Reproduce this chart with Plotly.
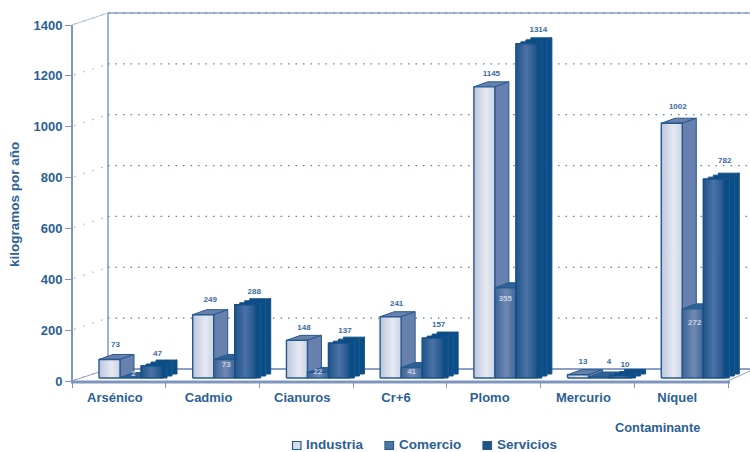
import plotly.graph_objects as go

# Annual emissions by pollutant and sector (kg/year)
contaminantes = ["Arsénico", "Cadmio", "Cianuros", "Cr+6", "Plomo", "Mercurio", "Níquel"]
industria = [73, 249, 148, 241, 1145, 13, 1002]
comercio = [2, 73, 22, 41, 355, 4, 272]
servicios = [47, 288, 137, 157, 1314, 10, 782]
y_ticks = [0, 200, 400, 600, 800, 1000, 1200, 1400]

# Front plane of the chart in pixels; everything below is expressed through these scales
WIDTH, HEIGHT = 750, 452
LEFT, RIGHT, TOP, BOTTOM = 72, 728, 25, 381
PX_X = (RIGHT - LEFT) / len(contaminantes)   # pixels per category
PX_Y = (BOTTOM - TOP) / 1400                 # pixels per kg


def ux(px):
    return px / PX_X


def uy(px):
    return px / PX_Y


BLUE_TEXT = "#2c5f96"
AXIS = "#7f95bd"
DOTS = "#5f7fa8"
EDGE = "#245a8e"

BAR_W = ux(21)
GROUP_START = ux(27)
FLOOR = uy(3)              # bars stand slightly behind the front plane
WALL_DX, WALL_DY = ux(36), uy(12)

SERIES = [
    dict(values=industria, depth=(ux(14), uy(5)), steps=1, side="#6880ad", edge=EDGE,
         grad=[[0, "#bcc6dc"], [0.6, "#e6e9f2"], [1, "#ccd3e4"]]),
    dict(values=comercio, depth=(ux(14), uy(5)), steps=1, side="#2f6096", edge=EDGE,
         grad=[[0, "#3d6497"], [0.55, "#7089b4"], [1, "#3f6698"]]),
    dict(values=servicios, depth=(ux(15), uy(6)), steps=3, side="#0b4d86", edge="#144f86",
         grad=[[0, "#1f5489"], [0.5, "#4a72a6"], [1, "#1f5489"]]),
]

# The axes run on to the page edge so the receding wall stays inside the plot area
x_start, x_stop = -0.5, len(contaminantes) - 0.5
page_right = x_start + ux(WIDTH - LEFT)
y_top = uy(BOTTOM)

fig = go.Figure()

# Carries the category axis; the marks live on the numeric overlay axis
fig.add_trace(go.Scatter(x=contaminantes, y=[0] * len(contaminantes), mode="none",
                         showlegend=False, hoverinfo="skip"))


def line(xs, ys, color, width=1, dash="solid"):
    fig.add_trace(go.Scatter(x=xs, y=ys, xaxis="x2", mode="lines",
                             line=dict(color=color, width=width, dash=dash),
                             showlegend=False, hoverinfo="skip"))


def face(xs, ys, fill=None, grad=None, edge=EDGE, width=1):
    kw = dict(fillcolor=fill) if fill else dict(fillgradient=dict(type="horizontal", colorscale=grad))
    fig.add_trace(go.Scatter(x=xs + xs[:1], y=ys + ys[:1], xaxis="x2", mode="lines",
                             fill="toself", line=dict(color=edge, width=width),
                             showlegend=False, hoverinfo="skip", **kw))


# Back wall, its gridlines and the floor edges
wall_x = x_start + WALL_DX
line([wall_x, wall_x], [WALL_DY, 1400 + WALL_DY], "#8ba0c6", 1.6)
line([wall_x, page_right], [1400 + WALL_DY] * 2, "#8ba0c6", 1.6)
line([wall_x, page_right], [WALL_DY, WALL_DY], "#8ba0c6", 2)
for t in y_ticks:
    if t:
        line([wall_x, page_right], [t + WALL_DY] * 2, DOTS, 1.2, "1.5px,6px")
    line([x_start + ux(2), wall_x], [t + uy(1), t + WALL_DY], "#a3b3cf", 1.2, "1.5px,8px")
line([x_start, wall_x], [1400, 1400 + WALL_DY], "#b4c1d8", 1)
line([x_start, wall_x], [0, WALL_DY], "#8ba0c6", 1)
line([x_stop, page_right], [0, uy(10)], "#8ba0c6", 1)


def stair(x, y, dx, dy, steps):
    """Corner points climbing from a front corner to its back corner."""
    pts = []
    for k in range(1, steps + 1):
        pts.append((x + dx * k / steps, y + dy * (k - 1) / steps))
        pts.append((x + dx * k / steps, y + dy * k / steps))
    return pts


# Each category is painted left to right so that nearer faces overlap correctly
for i in range(len(contaminantes)):
    for s, cfg in enumerate(SERIES):
        v = cfg["values"][i]
        x0 = x_start + i + GROUP_START + s * BAR_W
        x1 = x0 + BAR_W
        y0, y1 = FLOOR, FLOOR + v
        dx, dy = cfg["depth"]
        st = cfg["steps"]
        # Top and side faces; Servicios has a stepped outline
        top_run = stair(x0, y1, dx, dy, st) if st > 1 else [(x0 + dx, y1 + dy)]
        bottom_run = stair(x1, y0, dx, dy, st) if st > 1 else [(x1 + dx, y0 + dy)]
        back_corner = (x1 + dx, y1 + dy)
        pts = [(x0, y1)] + top_run + [back_corner, (x1, y1)]
        face([p[0] for p in pts], [p[1] for p in pts], fill=cfg["side"], edge=cfg["edge"])
        pts = [(x1, y1), back_corner] + bottom_run[::-1] + [(x1, y0)]
        face([p[0] for p in pts], [p[1] for p in pts], fill=cfg["side"], edge=cfg["edge"])
        if st > 1:
            for k in range(1, st):
                sx = x1 + dx * k / st
                line([sx, sx], [y0 + dy * k / st, y1 + dy * k / st], "#1b5c93", 1)
        # Front face with its horizontal sheen
        face([x0, x1, x1, x0], [y0, y0, y1, y1], grad=cfg["grad"], edge=cfg["edge"], width=1.4)


def bar_centre(i, s):
    return x_start + i + GROUP_START + (s + 0.5) * BAR_W


LABEL_FONT = dict(family="Liberation Sans", size=8, color="#3a6a9f", weight="bold")
INNER_FONT = dict(family="Liberation Sans", size=8, color="#c6d0e2", weight="bold")

# Value labels float above the top face: per-bar nudges keep them clear of the depth faces
industria_lift = [14, 15, 12, 13, 13, 13, 16]
industria_nudge = [6, 7, 7, 6, 7, 5, 6]
servicios_lift = [12, 13, 12, 13, 14, 10, 18]
servicios_nudge = [6, 9, 6, 6, 12, 5, 11]
label_x, label_y, label_t = [], [], []
for s, values, lift, nudge in ((0, industria, industria_lift, industria_nudge),
                               (2, servicios, servicios_lift, servicios_nudge)):
    for i, v in enumerate(values):
        label_x.append(bar_centre(i, s) + ux(nudge[i]))
        label_y.append(FLOOR + v + uy(lift[i]))
        label_t.append(str(v))
fig.add_trace(go.Scatter(x=label_x, y=label_y, text=label_t, xaxis="x2", mode="text",
                         textfont=LABEL_FONT, showlegend=False, hoverinfo="skip"))

# Comercio labels sit inside the bar, except where the bar is too short to hold one
comercio_drop = [-3.5, 6, 0, 4, 11, -15, 14]   # label distance below the bar top
comercio_nudge = [3, 2, 0, 0, 0, 10, 2]
inside = [i for i in range(len(comercio)) if comercio_drop[i] > -15]
above = [i for i in range(len(comercio)) if i not in inside]
for group, font in ((inside, INNER_FONT), (above, LABEL_FONT)):
    fig.add_trace(go.Scatter(x=[bar_centre(i, 1) + ux(comercio_nudge[i]) for i in group],
                             y=[FLOOR + comercio[i] - uy(comercio_drop[i]) for i in group],
                             text=[str(comercio[i]) for i in group], xaxis="x2", mode="text",
                             textfont=font, showlegend=False, hoverinfo="skip"))


def paper_x(px):
    return (px - LEFT) / (WIDTH - LEFT)


def paper_y(py):
    return (BOTTOM - py) / BOTTOM


# Axis spines stop at the front plane, short of the extended plot area
shapes = [
    dict(type="line", xref="paper", yref="paper", x0=paper_x(LEFT), x1=paper_x(LEFT),
         y0=paper_y(BOTTOM), y1=paper_y(TOP), line=dict(color=AXIS, width=2)),
    dict(type="line", xref="paper", yref="paper", x0=paper_x(LEFT - 1), x1=paper_x(RIGHT + 2),
         y0=paper_y(BOTTOM + 1), y1=paper_y(BOTTOM + 1), line=dict(color=AXIS, width=3)),
]

# Sector key along the bottom edge
annotations = []
key = [("Industria", 292.5, 304, "#d7dcea"), ("Comercio", 385, 396.5, "#4f74a6"), ("Servicios", 483, 494.5, "#1f5489")]
for name, box_x, text_x, colour in key:
    shapes.append(dict(type="rect", xref="paper", yref="paper",
                       x0=paper_x(box_x), x1=paper_x(box_x + 8.5),
                       y0=paper_y(449.5), y1=paper_y(441.5),
                       fillcolor=colour, line=dict(color=EDGE, width=1.2)))
    annotations.append(dict(text=name, xref="paper", yref="paper", x=paper_x(text_x), y=paper_y(444.5),
                            xanchor="left", yanchor="middle", showarrow=False,
                            font=dict(family="Liberation Sans", size=13.5, color=BLUE_TEXT, weight="bold")))
annotations.append(dict(text="Contaminante", xref="paper", yref="paper", x=paper_x(657.5), y=paper_y(427),
                        xanchor="center", yanchor="middle", showarrow=False,
                        font=dict(family="Liberation Sans", size=12.8, color=BLUE_TEXT, weight="bold")))
annotations.append(dict(text="kilogramos por año", xref="paper", yref="paper", x=paper_x(15), y=paper_y(204),
                        xanchor="center", yanchor="middle", showarrow=False, textangle=-90,
                        font=dict(family="Liberation Sans", size=13.5, color=BLUE_TEXT, weight="bold")))

fig.update_layout(
    width=WIDTH, height=HEIGHT, autosize=False,
    margin=dict(l=LEFT, r=0, t=0, b=HEIGHT - BOTTOM, pad=0),
    paper_bgcolor="white", plot_bgcolor="white", showlegend=False,
    font=dict(family="Liberation Sans", color=BLUE_TEXT),
    shapes=shapes, annotations=annotations,
    xaxis=dict(type="category", categoryorder="array", categoryarray=contaminantes,
               range=[x_start, page_right], tickson="boundaries", ticks="outside", ticklen=6, tickwidth=1.2,
               tickcolor=AXIS, showline=False, showgrid=False, zeroline=False,
               ticklabelshift=-4, ticklabelstandoff=7,
               tickfont=dict(family="Liberation Sans", size=13, color=BLUE_TEXT, weight="bold")),
    xaxis2=dict(overlaying="x", range=[x_start, page_right], visible=False, anchor="y"),
    yaxis=dict(range=[0, y_top], tickmode="array", tickvals=y_ticks, ticks="outside", ticklen=6, tickwidth=1.4,
               tickcolor=AXIS, showline=False, showgrid=False, zeroline=False,
               tickfont=dict(family="Liberation Sans", size=13, color=BLUE_TEXT, weight="bold")),
)

fig.write_html("out.html", config=dict(displayModeBar=False))
